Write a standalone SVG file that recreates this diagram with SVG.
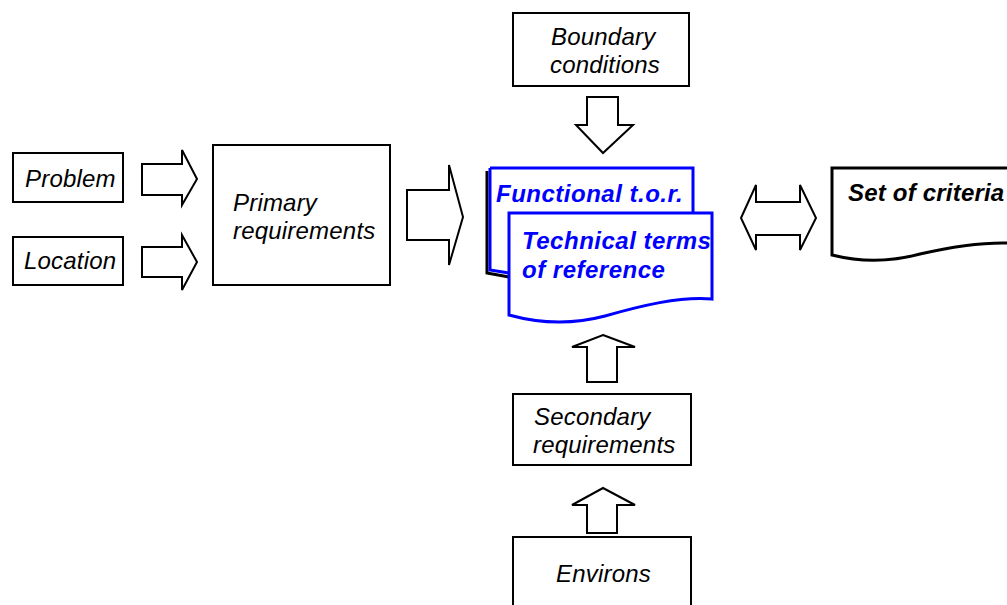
<svg xmlns="http://www.w3.org/2000/svg" width="1007" height="605" viewBox="0 0 1007 605">
  <style>
    .box { fill: #fff; stroke: #000; stroke-width: 2; }
    .arrow { fill: #fff; stroke: #000; stroke-width: 2; stroke-linejoin: miter; }
    .lbl { font-family: "Liberation Sans", Arial, sans-serif; font-style: italic; font-size: 24px; letter-spacing: 0.2px; fill: #000; }
    .tor { font-family: "Liberation Sans", Arial, sans-serif; font-style: italic; font-weight: bold; font-size: 24px; letter-spacing: 0.5px; fill: #0000ff; }
    .crit { font-family: "Liberation Sans", Arial, sans-serif; font-style: italic; font-weight: bold; font-size: 24px; letter-spacing: 0.2px; fill: #000; }
    .doc { fill: #fff; stroke: #0000ff; stroke-width: 3; stroke-linejoin: miter; }
  </style>
  <rect width="1007" height="605" fill="#fff"/>

  <!-- block arrows -->
  <g id="connectors">
    <polygon class="arrow" points="142,164 182,164 182,150 197,179 182,205 182,195 142,195"/>
    <polygon class="arrow" points="142,247 182,247 182,235 197,262 182,290 182,277 142,277"/>
    <polygon class="arrow" points="407,190 449,190 449,165 463,217 449,265 449,240 407,240"/>
    <polygon class="arrow" points="741,218 756,185 756,202 800,202 800,185 816,218 800,250 800,235 756,235 756,250"/>
    <polygon class="arrow" points="587,97 618,97 618,125 633,125 603,153 576,125 587,125"/>
    <polygon class="arrow" points="603,335 635,347 617,347 617,382 587,382 587,347 572,347"/>
    <polygon class="arrow" points="603,488 635,505 617,505 617,533 587,533 587,505 572,505"/>
  </g>

  <g id="problem">
    <rect class="box" x="13" y="153" width="110" height="49"/>
    <text class="lbl" x="25" y="187">Problem</text>
  </g>
  <g id="location">
    <rect class="box" x="13" y="237" width="110" height="48"/>
    <text class="lbl" x="24" y="269">Location</text>
  </g>
  <g id="primary">
    <rect class="box" x="213" y="145" width="177" height="140"/>
    <text class="lbl" x="233" y="211">Primary</text>
    <text class="lbl" x="233" y="239">requirements</text>
  </g>
  <g id="boundary">
    <rect class="box" x="513" y="13" width="176" height="73"/>
    <text class="lbl" x="551" y="45">Boundary</text>
    <text class="lbl" x="550" y="73">conditions</text>
  </g>
  <g id="secondary">
    <rect class="box" x="513" y="394" width="178" height="71"/>
    <text class="lbl" x="534" y="425">Secondary</text>
    <text class="lbl" x="533" y="453">requirements</text>
  </g>
  <g id="environs">
    <rect class="box" x="513" y="537" width="178" height="80"/>
    <text class="lbl" x="556" y="582">Environs</text>
  </g>

  <!-- functional t.o.r. sheet with shadow, technical t.o.r. sheet in front -->
  <g id="functional">
    <path d="M487,171 V273 L509,277" fill="none" stroke="#000" stroke-width="3"/>
    <path class="doc" d="M490,168 H693 V213 M509,273 L490,270 V168"/>
    <text class="tor" x="496" y="202">Functional t.o.r.</text>
  </g>
  <g id="technical">
    <path class="doc" d="M509,213 H712 V299 C680,296 640,306 605,316 C575,324 545,325 509,315 Z"/>
    <text class="tor" x="522" y="249">Technical terms</text>
    <text class="tor" x="522" y="278">of reference</text>
  </g>

  <g id="criteria">
    <path d="M1010,168 H832 V255 C860,262 890,262 920,254 C950,247 980,242 1010,243" fill="#fff" stroke="#000" stroke-width="3"/>
    <text class="crit" x="848" y="201">Set of criteria</text>
  </g>
</svg>
